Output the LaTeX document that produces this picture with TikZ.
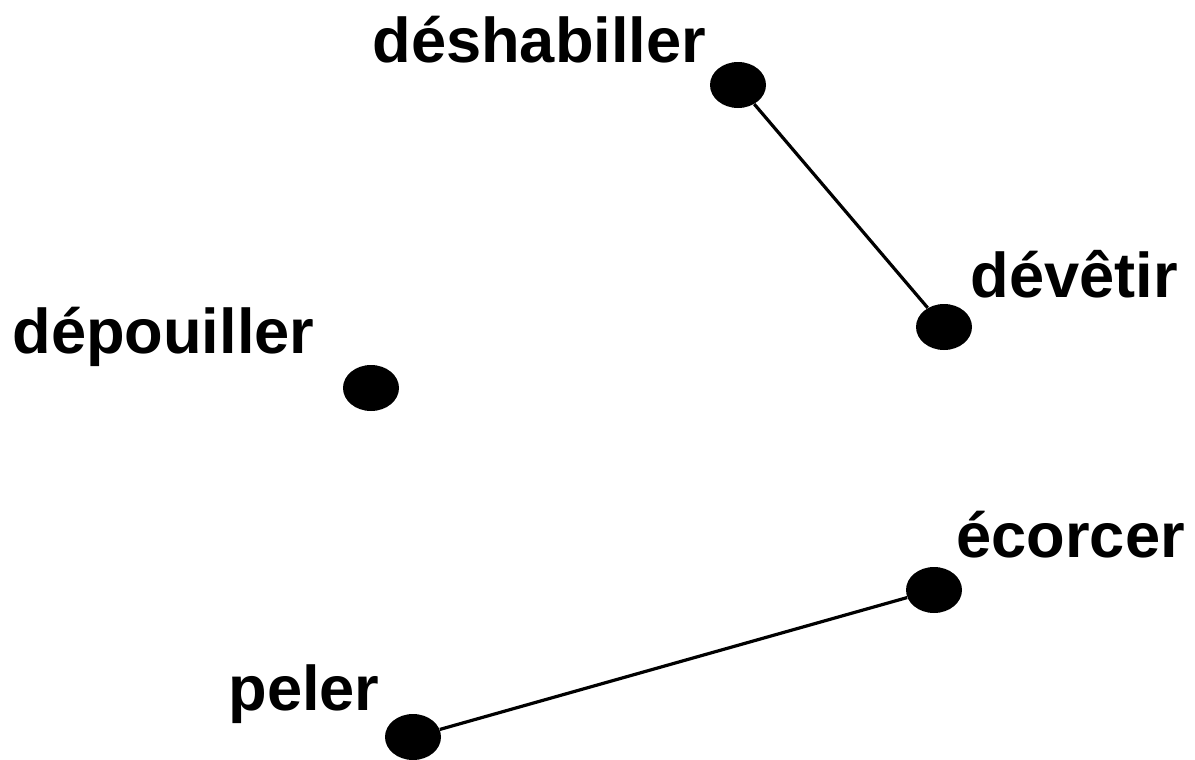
\documentclass[tikz,border=0pt]{standalone}
\usepackage{fontspec}
\setmainfont{Liberation Sans}
\usepackage{tikz}
\usetikzlibrary{shapes.geometric}

\begin{document}
\begin{tikzpicture}[x=0.5pt, y=-0.5pt,
    dot/.style={ellipse, fill=black, draw=none, minimum width=28pt, minimum height=23pt, inner sep=0pt},
    word/.style={anchor=base west, inner sep=0pt, font=\fontsize{31.6}{37}\selectfont\bfseries},
    link/.style={black, line width=1.6pt}]
            \useasboundingbox (0,0) rectangle (1195,760);

            % Vertices
            \node[dot] (deshabiller) at (738,85) {};
            \node[dot] (devetir) at (944,327) {};
            \node[dot] (depouiller) at (371,388) {};
            \node[dot] (ecorcer) at (934,590) {};
            \node[dot] (peler) at (413,737) {};

            % Edges
            \draw[link] (deshabiller) -- (devetir);
            \draw[link] (ecorcer) -- (peler);

            % Labels
            \node[word] (deshabillerL) at (372,62) {déshabiller};
            \node[word] (devetirL) at (970,297) {dévêtir};
            \node[word] (depouillerL) at (12,353) {dépouiller};
            \node[word] (ecorcerL) at (956,557) {écorcer};
            \node[word] (pelerL) at (228,710) {peler};
        \end{tikzpicture}
\end{document}
